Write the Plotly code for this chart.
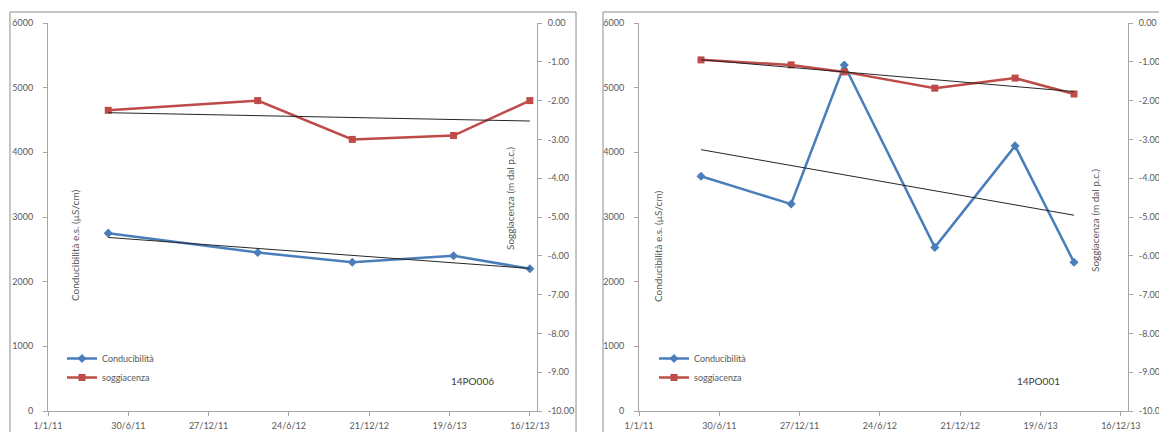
import numpy as np
import pandas as pd
import plotly.graph_objects as go

# Well 14PO006
dates_006 = ["2011-05-16", "2012-04-15", "2012-11-13", "2013-06-28", "2013-12-16"]
cond_006 = [2750, 2450, 2300, 2400, 2200]
sogg_006 = [-2.25, -2.00, -3.00, -2.90, -2.00]

# Well 14PO001
dates_001 = ["2011-05-20", "2011-12-08", "2012-04-05", "2012-10-25", "2013-04-23", "2013-09-02"]
cond_001 = [3630, 3200, 5350, 2530, 4100, 2300]
sogg_001 = [-0.95, -1.08, -1.26, -1.68, -1.42, -1.83]

# Axis ticks
x_tick_dates = ["2011-01-01", "2011-06-30", "2011-12-27", "2012-06-24",
                "2012-12-21", "2013-06-19", "2013-12-16"]
x_tick_labels = ["1/1/11", "30/6/11", "27/12/11", "24/6/12", "21/12/12", "19/6/13", "16/12/13"]
cond_ticks = [0, 1000, 2000, 3000, 4000, 5000, 6000]
sogg_ticks = [0, -1, -2, -3, -4, -5, -6, -7, -8, -9, -10]
sogg_tick_labels = ["0.00", "-1.00", "-2.00", "-3.00", "-4.00", "-5.00",
                    "-6.00", "-7.00", "-8.00", "-9.00", "-10.00"]

W, H = 1159, 432
FONT = "Lato"
BLUE = "#4A7EBB"
RED = "#BE4B48"
TXT = "#595959"
AXC = "#A6A6A6"


def px(x):
    return x / W


def py(y):
    return 1 - y / H


def trend(dates, values):
    """Least-squares linear trend spanning the first to the last sample."""
    t = pd.to_datetime(pd.Series(dates))
    d = (t - t.iloc[0]).dt.days.to_numpy(dtype=float)
    slope, icpt = np.polyfit(d, np.asarray(values, dtype=float), 1)
    return [dates[0], dates[-1]], [icpt + slope * d[0], icpt + slope * d[-1]]


fig = go.Figure()


def add_panel(dates, cond, sogg, xa, ya, ya2, legend):
    fig.add_trace(go.Scatter(
        x=dates, y=cond, name="Conducibilità", mode="lines+markers",
        line=dict(color=BLUE, width=2.5), marker=dict(symbol="diamond", size=7, color=BLUE),
        xaxis=xa, yaxis=ya, legend=legend))
    fig.add_trace(go.Scatter(
        x=dates, y=sogg, name="soggiacenza", mode="lines+markers",
        line=dict(color=RED, width=2.5), marker=dict(symbol="square", size=7, color=RED),
        xaxis=xa, yaxis=ya2, legend=legend))
    tx, ty = trend(dates, cond)
    fig.add_trace(go.Scatter(x=tx, y=ty, mode="lines", line=dict(color="#262626", width=1),
                             xaxis=xa, yaxis=ya, showlegend=False, hoverinfo="skip"))
    tx, ty = trend(dates, sogg)
    fig.add_trace(go.Scatter(x=tx, y=ty, mode="lines", line=dict(color="#262626", width=1),
                             xaxis=xa, yaxis=ya2, showlegend=False, hoverinfo="skip"))


add_panel(dates_006, cond_006, sogg_006, "x", "y", "y2", "legend")
add_panel(dates_001, cond_001, sogg_001, "x2", "y3", "y4", "legend2")

tickfont = dict(family=FONT, size=9, color=TXT)
common = dict(showgrid=False, zeroline=False, showline=True, linecolor=AXC, linewidth=1,
              ticks="outside", ticklen=4, tickcolor=AXC, tickfont=tickfont, automargin=False)

xcommon = dict(common, type="date", range=["2011-01-01", "2014-01-01"],
               tickmode="array", tickvals=x_tick_dates, ticktext=x_tick_labels,
               ticklabelstandoff=2)
ycond = dict(common, range=[0, 6000], tickmode="array", tickvals=cond_ticks,
             ticktext=[str(v) for v in cond_ticks], ticklabelstandoff=8)
ysogg = dict(common, range=[-10, 0], tickmode="array", tickvals=sogg_ticks,
             ticktext=sogg_tick_labels, side="right", ticklabelstandoff=4)

ydom = [py(411), py(23)]

legend_style = dict(font=dict(family=FONT, size=9, color=TXT), bgcolor="rgba(0,0,0,0)",
                    xanchor="left", yanchor="top", itemwidth=30, tracegroupgap=0)

fig.update_layout(
    width=W, height=H,
    margin=dict(l=0, r=0, t=0, b=0, autoexpand=False),
    paper_bgcolor="white", plot_bgcolor="white",
    xaxis=dict(xcommon, domain=[px(48), px(537)], anchor="y"),
    yaxis=dict(ycond, domain=ydom, anchor="x"),
    yaxis2=dict(ysogg, overlaying="y", anchor="x"),
    xaxis2=dict(xcommon, domain=[px(639), px(1128)], anchor="y3"),
    yaxis3=dict(ycond, domain=ydom, anchor="x2"),
    yaxis4=dict(ysogg, overlaying="y3", anchor="x2"),
    legend=dict(legend_style, x=px(62), y=py(344)),
    legend2=dict(legend_style, x=px(654), y=py(344)),
    showlegend=True,
)

# Chart-area frames
frame = dict(type="rect", xref="paper", yref="paper", line=dict(color="#8C8C8C", width=1),
             fillcolor="rgba(0,0,0,0)", layer="below")
fig.add_shape(frame, x0=px(10), x1=px(576), y0=py(445), y1=py(12))
fig.add_shape(frame, x0=px(603), x1=px(1175), y0=py(445), y1=py(12))

ann = dict(xref="paper", yref="paper", showarrow=False)
title_font = dict(family=FONT, size=10, color=TXT)
fig.add_annotation(ann, x=px(67), y=py(246), text="Conducibilità e.s. (µS/cm)",
                   textangle=-90, font=title_font)
fig.add_annotation(ann, x=px(658), y=py(246), text="Conducibilità e.s. (µS/cm)",
                   textangle=-90, font=title_font)
fig.add_annotation(ann, x=px(510), y=py(199), text="Soggiacenza (m dal p.c.)",
                   textangle=-90, font=title_font)
fig.add_annotation(ann, x=px(1103), y=py(221), text="Soggiacenza (m dal p.c.)",
                   textangle=-90, font=title_font)
fig.add_annotation(ann, x=px(472), y=py(389), text="14PO006",
                   font=dict(family=FONT, size=10, color="#404040"))
fig.add_annotation(ann, x=px(1062), y=py(389), text="14PO001",
                   font=dict(family=FONT, size=10, color="#404040"))

fig.write_html("out.html")
